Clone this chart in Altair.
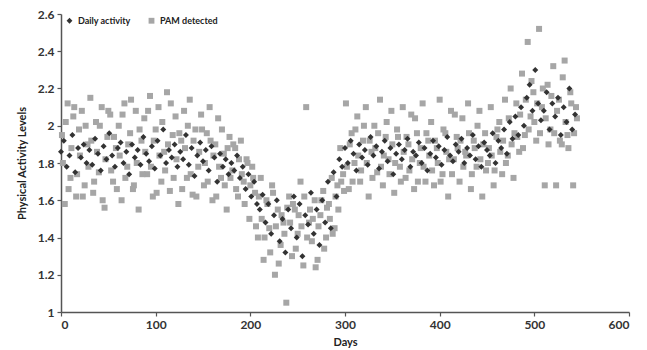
import altair as alt
import pandas as pd

# Daily activity (dark diamonds), sampled every 3 days starting at day 0
daily_days = list(range(0, 546, 3))
daily_vals = [
    1.86,1.92,1.78,1.84,1.95,1.75,1.88,1.83,1.90,1.80,
    1.87,1.79,1.93,1.85,1.76,1.89,1.82,1.96,1.84,1.78,
    1.88,1.91,1.80,1.86,1.74,1.90,1.83,1.87,1.79,1.94,
    1.85,1.81,1.89,1.77,1.92,1.84,1.98,1.80,1.87,1.83,
    1.90,1.78,1.86,1.82,1.95,1.79,1.88,1.73,1.84,1.91,
    1.81,1.87,1.76,1.89,1.83,1.70,1.85,1.78,1.82,1.74,
    1.80,1.76,1.84,1.72,1.78,1.66,1.74,1.62,1.70,1.58,
    1.55,1.63,1.48,1.58,1.42,1.52,1.60,1.38,1.50,1.32,
    1.55,1.45,1.62,1.40,1.58,1.30,1.52,1.47,1.64,1.42,
    1.55,1.36,1.60,1.48,1.70,1.45,1.75,1.62,1.82,1.78,
    1.88,1.80,1.92,1.85,1.76,1.90,1.83,1.87,1.79,1.94,
    1.84,1.89,1.77,1.86,1.92,1.81,1.88,1.74,1.85,1.90,
    1.82,1.87,1.93,1.78,1.86,1.84,1.91,1.80,1.88,1.76,
    1.85,1.92,1.83,1.89,1.79,1.87,1.94,1.84,1.81,1.90,
    1.86,1.93,1.80,1.88,1.84,1.95,1.82,1.89,1.78,1.91,
    1.87,1.84,1.96,1.80,1.92,1.88,1.98,1.85,2.02,1.93,
    2.05,1.95,2.10,2.00,2.15,2.22,2.08,2.30,2.12,2.03,
    2.08,2.18,1.98,2.12,2.05,2.15,1.95,2.10,2.02,2.20,
    1.98,2.06,
]

# PAM detected (grey squares), two readings per 3-day block
pam_days_a = list(range(1, 546, 3))
pam_vals_a = [
    1.95,1.58,2.12,1.72,2.05,1.62,1.98,2.08,1.68,1.90,
    2.15,1.64,2.02,1.75,2.10,1.56,1.94,2.06,1.70,1.88,
    2.00,1.60,2.12,1.78,1.96,1.66,2.08,1.55,1.92,2.04,
    1.74,2.16,1.62,1.98,2.10,1.70,1.86,2.18,1.65,1.95,
    2.05,1.58,1.92,2.08,1.72,2.14,1.63,1.98,1.78,2.06,
    1.68,1.96,2.10,1.60,1.90,2.04,1.72,1.85,1.55,1.94,
    1.76,1.88,1.62,1.92,1.70,1.82,1.50,1.78,1.64,1.40,
    1.72,1.28,1.60,1.45,1.68,1.20,1.55,1.36,1.48,1.05,
    1.62,1.30,1.55,1.42,1.70,1.25,2.10,1.48,1.38,1.60,
    1.28,1.52,1.65,1.40,1.58,1.72,1.45,1.68,1.88,1.74,
    2.12,1.66,1.96,1.80,2.05,1.70,1.92,2.10,1.62,1.86,
    2.00,1.75,2.14,1.68,1.94,1.82,2.08,1.64,1.98,1.78,
    2.10,1.72,1.90,2.06,1.66,1.96,1.80,2.12,1.70,1.92,
    2.02,1.68,1.88,2.14,1.74,1.96,1.62,2.08,1.82,1.94,
    1.70,2.04,1.86,2.12,1.66,1.92,1.78,2.08,1.62,1.96,
    1.80,2.10,1.68,1.94,2.02,1.74,2.14,1.84,2.20,1.72,
    2.12,1.86,2.28,1.95,2.45,2.05,2.18,1.92,2.52,2.10,
    1.68,2.22,1.98,2.32,1.68,2.14,1.90,2.35,1.95,2.18,
    1.68,2.10,
]
pam_days_b = list(range(2, 547, 3))
pam_vals_b = [
    1.80,2.02,1.66,1.88,2.10,1.74,1.84,1.62,2.00,1.78,
    1.92,1.70,1.86,2.00,1.60,1.82,2.08,1.76,1.94,1.66,
    1.84,2.06,1.72,1.90,2.14,1.68,1.80,1.98,1.74,1.86,
    2.08,1.78,1.92,1.64,1.84,2.02,1.76,1.90,2.12,1.72,
    1.82,1.96,1.66,1.88,2.00,1.74,1.92,1.62,1.86,1.98,
    1.80,1.70,1.92,1.84,1.62,1.78,1.98,1.68,1.88,1.72,
    1.90,1.66,1.82,1.74,1.58,1.80,1.68,1.72,1.46,1.62,
    1.50,1.40,1.58,1.32,1.64,1.46,1.26,1.52,1.42,1.56,
    1.48,1.58,1.34,1.52,1.46,1.62,1.40,1.55,1.50,1.24,
    1.46,1.60,1.34,1.56,1.50,1.42,1.62,1.55,1.70,1.65,
    1.78,1.90,1.70,1.98,1.84,1.76,2.00,1.80,1.92,1.72,
    1.88,1.96,1.78,1.84,2.02,1.74,1.90,1.80,1.94,1.70,
    1.86,1.94,1.76,1.82,2.04,1.70,1.88,1.78,1.96,1.84,
    1.76,1.92,1.80,1.70,1.98,1.86,1.82,1.74,2.06,1.88,
    1.92,1.78,1.84,1.96,1.74,1.88,2.00,1.82,1.90,1.76,
    1.88,1.84,1.76,1.98,1.86,1.92,1.80,2.04,1.90,1.96,
    1.94,2.06,1.88,2.14,1.98,2.24,2.02,2.12,1.96,2.20,
    2.04,1.90,2.16,1.96,2.08,1.92,2.26,2.02,1.88,2.12,
    1.96,2.04,
]

series_names = ["Daily activity", "PAM detected"]

n_a = min(len(pam_days_a), len(pam_vals_a))
n_b = min(len(pam_days_b), len(pam_vals_b))
n_d = min(len(daily_days), len(daily_vals))

pam_df = pd.DataFrame({
    "day": pam_days_a[:n_a] + pam_days_b[:n_b],
    "value": pam_vals_a[:n_a] + pam_vals_b[:n_b],
    "series": [series_names[1]] * (n_a + n_b),
})
daily_df = pd.DataFrame({
    "day": daily_days[:n_d],
    "value": daily_vals[:n_d],
    "series": [series_names[0]] * n_d,
})
df = pd.concat([pam_df, daily_df], ignore_index=True)
df["order"] = (df["series"] == series_names[0]).astype(int)

FONT = "Lato"

legend = alt.Legend(title=None, orient="none", legendX=4, legendY=2,
                    direction="horizontal", symbolSize=34,
                    labelFont=FONT, labelFontSize=9,
                    labelFontWeight="bold", labelColor="#222",
                    columnPadding=16, symbolStrokeWidth=0)

x = alt.X("day:Q", title="Days",
          scale=alt.Scale(domain=[0, 600], nice=False),
          axis=alt.Axis(values=[0, 100, 200, 300, 400, 500, 600], grid=False,
                        tickSize=4, labelPadding=3, titlePadding=6))
y = alt.Y("value:Q", title="Physical Activity Levels",
          scale=alt.Scale(domain=[1, 2.6], nice=False, zero=False),
          axis=alt.Axis(values=[1, 1.2, 1.4, 1.6, 1.8, 2.0, 2.2, 2.4, 2.6],
                        format="~g", grid=False, tickSize=4, labelPadding=3,
                        titlePadding=10))

chart = alt.Chart(df).mark_point(filled=True, opacity=1, strokeWidth=0, size=36).encode(
    x=x,
    y=y,
    shape=alt.Shape("series:N",
                    scale=alt.Scale(domain=series_names, range=["diamond", "square"]),
                    legend=legend),
    color=alt.Color("series:N",
                    scale=alt.Scale(domain=series_names, range=["#333333", "#a6a6a6"]),
                    legend=legend),
    order=alt.Order("order:Q"),
).properties(
    width=568, height=298,
    autosize=alt.AutoSizeParams(type="none"),
    padding={"left": 61, "top": 14, "right": 18, "bottom": 38},
).configure_view(stroke=None).configure_axis(
    domainColor="#555", domainWidth=1.5, tickColor="#555", tickWidth=1.2,
    labelFont=FONT, labelFontSize=12, labelFontWeight="bold", labelColor="#333",
    titleFont=FONT, titleFontSize=11, titleFontWeight="bold", titleColor="#222",
)

chart.save("out.html", embed_options={"renderer": "svg", "actions": False})
